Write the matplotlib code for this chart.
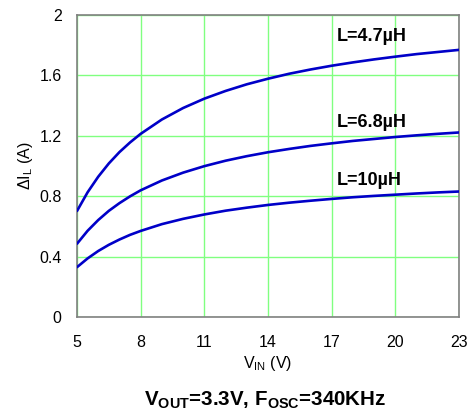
import matplotlib
matplotlib.use("Agg")
import matplotlib.pyplot as plt

plt.rcParams['font.family'] = ['Liberation Sans', 'DejaVu Sans']
plt.rcParams['mathtext.fontset'] = 'custom'
plt.rcParams['mathtext.rm'] = 'Liberation Sans'
plt.rcParams['mathtext.bf'] = 'Liberation Sans:bold'

# Input voltage (V)
vin = [5, 5.5, 6, 6.5, 7, 7.5, 8, 9, 10, 11, 12, 13, 14, 15, 16, 17, 18, 19, 20, 21, 22, 23]

# Inductor ripple current (A) for each inductance
ripple_4u7 = [0.702, 0.826, 0.929, 1.017, 1.092, 1.156, 1.213, 1.308, 1.384, 1.446, 1.497,
              1.541, 1.578, 1.611, 1.639, 1.664, 1.686, 1.706, 1.724, 1.741, 1.755, 1.769]
ripple_6u8 = [0.485, 0.571, 0.642, 0.703, 0.754, 0.799, 0.839, 0.904, 0.956, 0.999, 1.035,
              1.065, 1.091, 1.113, 1.133, 1.150, 1.166, 1.179, 1.192, 1.203, 1.213, 1.222]
ripple_10u = [0.330, 0.388, 0.437, 0.478, 0.513, 0.544, 0.570, 0.615, 0.650, 0.679, 0.704,
              0.724, 0.742, 0.757, 0.770, 0.782, 0.793, 0.802, 0.810, 0.818, 0.825, 0.831]

series = [ripple_4u7, ripple_6u8, ripple_10u]
labels = ["L=4.7µH", "L=6.8µH", "L=10µH"]
label_pos = [(17.25, 1.855), (17.25, 1.285), (17.25, 0.905)]

xticks = [5, 8, 11, 14, 17, 20, 23]
yticks = [0, 0.4, 0.8, 1.2, 1.6, 2]
ytick_labels = ["0", "0.4", "0.8", "1.2", "1.6", "2"]

fig = plt.figure(figsize=(4.73, 4.12), dpi=100)
ax = fig.add_axes([0.1628, 0.2306, 0.8076, 0.7330])

line_color = "#0000C8"
for ys in series:
    ax.plot(vin, ys, color=line_color, lw=1.9, solid_capstyle='round', zorder=3)

for text, (x, y) in zip(labels, label_pos):
    ax.text(x, y, text, fontsize=13, fontweight='bold', ha='left', va='center', color='black')

ax.set_xlim(5, 23)
ax.set_ylim(0, 2)
ax.set_xticks(xticks)
ax.set_yticks(yticks)
ax.set_yticklabels(ytick_labels)
ax.tick_params(length=0, labelsize=11.5, colors='black')
ax.tick_params(axis='x', pad=13)
ax.tick_params(axis='y', pad=11)
ax.grid(True, color="#80FF80", lw=1.0, zorder=1)
for s in ax.spines.values():
    s.set_color("#808080")
    s.set_linewidth(1.2)

ax.set_xlabel(r"V$_{\mathregular{IN}}$ (V)", fontsize=11.5, labelpad=3)
ax.set_ylabel(r"ΔI$_{\mathregular{L}}$ (A)", fontsize=11.5, labelpad=3)

fig.text(265 / 473, (412 - 400) / 412, r"V$_{\mathbf{OUT}}$=3.3V, F$_{\mathbf{OSC}}$=340KHz",
         fontsize=14.8, fontweight='bold', ha='center', va='center')

fig.savefig("out.png", dpi=100)
